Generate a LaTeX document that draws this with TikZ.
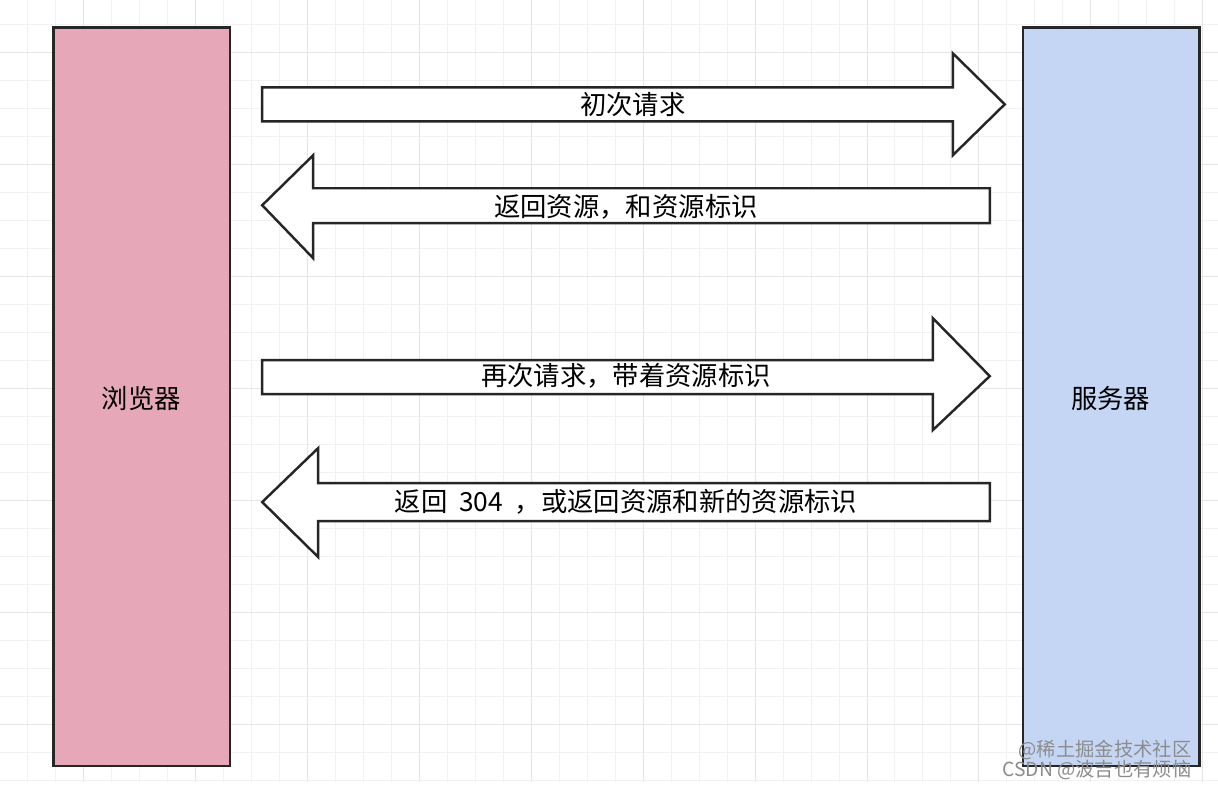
\documentclass[tikz,border=0pt]{standalone}
\usepackage{fontspec}
\setmainfont{Noto Sans CJK SC}
\begin{document}
\begin{tikzpicture}[x=0.02cm, y=-0.02cm, every node/.style={font=\fontsize{15}{17}\selectfont},
  party/.style={draw=black!85, line width=1.4pt},
  bigarrow/.style={draw=black!85, line width=1.4pt, fill=white, line join=miter}]

            % Background and grid
            \fill[white] (0,0) rectangle (1218,782);
            \foreach \gx in {27,55,...,1218} \draw[black!5] (\gx,0) -- (\gx,782);
            \foreach \gy in {24,52,...,782} \draw[black!5] (0,\gy) -- (1218,\gy);
            \foreach \gx in {83,195,...,1218} \draw[black!10] (\gx,0) -- (\gx,782);
            \foreach \gy in {52,164,...,782} \draw[black!10] (0,\gy) -- (1218,\gy);

            % Parties
            \draw[party, fill={rgb,255:red,230;green,168;blue,184}] (53,27) rectangle (230,766);
            \draw[party, fill={rgb,255:red,197;green,214;blue,245}] (1023,27) rectangle (1200,766);
            \node (browser) at (141,398) {浏览器};
            \node (server) at (1111,398) {服务器};

            % Arrows
            \draw[bigarrow] (262,87) -- (953,87) -- (953,53) -- (1005,104) -- (953,155) -- (953,121) -- (262,121) -- cycle;
            \draw[bigarrow] (990,188) -- (313,188) -- (313,155) -- (262,205) -- (313,258) -- (313,223) -- (990,223) -- cycle;
            \draw[bigarrow] (262,360) -- (933,360) -- (933,318) -- (990,376) -- (933,430) -- (933,394) -- (262,394) -- cycle;
            \draw[bigarrow] (990,483) -- (318,483) -- (318,448) -- (262,502) -- (318,557) -- (318,521) -- (990,521) -- cycle;

            % Labels
            \node (first) at (633,104) {初次请求};
            \node (back) at (626,207) {返回资源，和资源标识};
            \node (again) at (626,376) {再次请求，带着资源标识};
            \node (reply) at (626,502) {返回\ \ 304\ \ ，或返回资源和新的资源标识};

            % Watermark
            \node[text=black!45, font=\fontsize{11}{12}\selectfont, anchor=east] (mark1) at (1198,750) {@稀土掘金技术社区};
            \node[text=black!45, font=\fontsize{11}{12}\selectfont, anchor=east] (mark2) at (1198,770) {CSDN @波吉也有烦恼};

\end{tikzpicture}
\end{document}
